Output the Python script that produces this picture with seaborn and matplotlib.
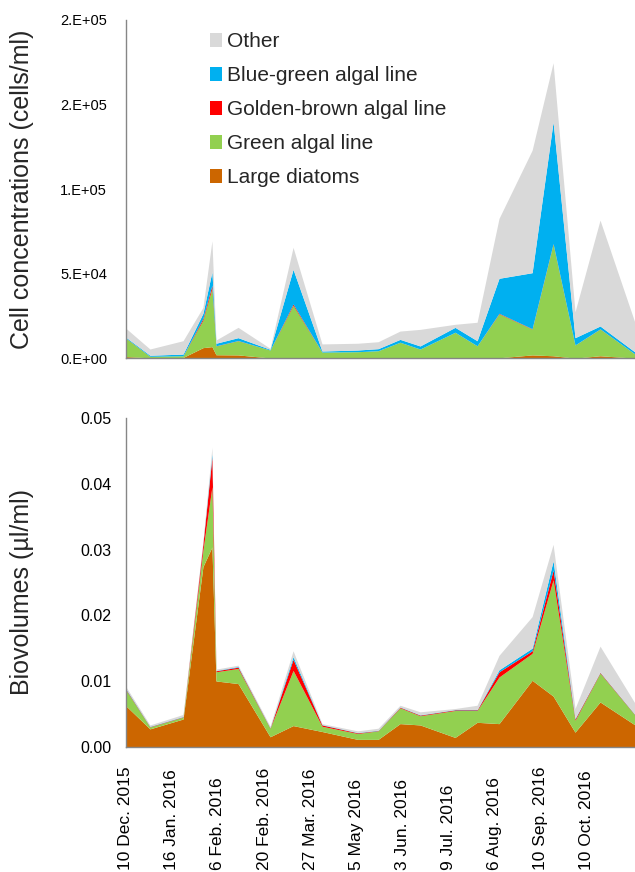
import numpy as np
import pandas as pd
import matplotlib
matplotlib.use("Agg")
import matplotlib.pyplot as plt
import seaborn as sns
from matplotlib.patches import Patch

# ---------------- data ----------------
# sampling days counted from 10 Dec. 2015
sample_day = [0, 15.4, 36.7, 49.5, 55.3, 57.9, 72.1, 92.7, 107.5, 126.1, 149.0,
              162.2, 176.3, 189.2, 211.7, 225.9, 240.0, 261.3, 274.8, 288.9, 305.0, 327.5]

series = ["Large diatoms", "Green algal line", "Golden-brown algal line",
          "Blue-green algal line", "Other"]
colors = ["#CC6600", "#92D050", "#FF0000", "#00B0F0", "#D9D9D9"]

# cell concentrations (cells/ml)
cells_diatoms = [1000, 300, 500, 6300, 6900, 2100, 2000, 200, 200, 100, 100,
                 100, 100, 100, 100, 100, 300, 2000, 1500, 100, 1500, 100]
cells_green = [10800, 900, 1000, 16300, 34500, 5200, 8400, 4700, 31100, 3600, 3800,
               4400, 9400, 5400, 15300, 7300, 26000, 15300, 66000, 7800, 15800, 2400]
cells_golden = [100, 0, 0, 1000, 1900, 100, 100, 0, 800, 0, 0,
                0, 0, 0, 0, 0, 300, 200, 300, 0, 100, 0]
cells_bluegreen = [500, 600, 1000, 3000, 7900, 1500, 1700, 400, 20500, 600, 1000,
                   1200, 1700, 1800, 2900, 3000, 20700, 33100, 72000, 4300, 1700, 1200]
cells_other = [5300, 3700, 7900, 3500, 18300, 1900, 6100, 600, 13000, 4200, 4000,
               4100, 4900, 9800, 1800, 10900, 35400, 72400, 34900, 15300, 62600, 17300]

# biovolumes (ul/ml)
bio_diatoms = [0.0062, 0.0027, 0.0042, 0.0274, 0.0304, 0.0100, 0.0096, 0.0015, 0.0032, 0.0023, 0.0011,
               0.0011, 0.0035, 0.0033, 0.0014, 0.0037, 0.0035, 0.0101, 0.0077, 0.0022, 0.0068, 0.0033]
bio_green = [0.0024, 0.0003, 0.0003, 0.0025, 0.0092, 0.0014, 0.0023, 0.0013, 0.0084, 0.0008, 0.0009,
             0.0013, 0.0024, 0.0014, 0.0041, 0.0018, 0.0071, 0.0041, 0.0177, 0.0018, 0.0044, 0.0015]
bio_golden = [0.0001, 0.00005, 0.00005, 0.0010, 0.0045, 0.00015, 0.0002, 0.00005, 0.0017, 0.0002, 0.0001,
              0.00005, 0.0001, 0.0001, 0.0001, 0.0001, 0.0008, 0.0004, 0.0015, 0.0002, 0.0001, 0.00005]
bio_bluegreen = [0.0001, 0.00005, 0.00005, 0.0001, 0.0005, 0.00005, 0.0001, 0.00005, 0.0004, 0.00005, 0.00005,
                 0.00005, 0.00005, 0.00005, 0.00005, 0.00005, 0.0003, 0.0004, 0.0014, 0.0001, 0.00005, 0.00005]
bio_other = [0.0003, 0.0002, 0.0003, 0.0003, 0.0010, 0.0002, 0.0002, 0.0002, 0.0009, 0.00015, 0.00025,
             0.0003, 0.00025, 0.00045, 0.00015, 0.00065, 0.0022, 0.0048, 0.0025, 0.0015, 0.00395, 0.0017]

date_labels = ["10 Dec. 2015", "16 Jan. 2016", "6 Feb. 2016", "20 Feb. 2016", "27 Mar. 2016",
               "5 May 2016", "3 Jun. 2016", "9 Jul. 2016", "6 Aug. 2016", "10 Sep. 2016",
               "10 Oct. 2016"]
top_ytick_labels = ["0.E+00", "5.E+04", "1.E+05", "2.E+05", "2.E+05"]
bottom_ytick_labels = ["0.00", "0.01", "0.02", "0.03", "0.04", "0.05"]

cells = pd.DataFrame({"day": sample_day, series[0]: cells_diatoms, series[1]: cells_green,
                      series[2]: cells_golden, series[3]: cells_bluegreen, series[4]: cells_other})
bio = pd.DataFrame({"day": sample_day, series[0]: bio_diatoms, series[1]: bio_green,
                    series[2]: bio_golden, series[3]: bio_bluegreen, series[4]: bio_other})

# ---------------- style ----------------
sns.set_style("white")
plt.rcParams["font.family"] = ["Liberation Sans", "DejaVu Sans"]

fig = plt.figure(figsize=(6.35, 8.72), dpi=100)
ax1 = fig.add_axes([0.1984, 0.5891, 0.8016, 0.3880])
ax2 = fig.add_axes([0.1984, 0.1438, 0.8016, 0.3765])

spine_col = "#868686"
xmax = 327.5
top_ticks = [0, 31, 62, 91, 122, 152, 183, 213, 244, 275, 305]
bottom_ticks = list(np.arange(11) * 29.6)

for ax, df in ((ax1, cells), (ax2, bio)):
    ax.stackplot(df["day"], *[df[s] for s in series], colors=colors,
                 linewidth=0, labels=series)
    ax.set_xlim(0, xmax)
    sns.despine(ax=ax)
    for sp in ("left", "bottom"):
        ax.spines[sp].set_color(spine_col)
        ax.spines[sp].set_linewidth(1.0)
    ax.tick_params(axis="y", direction="out", length=4, width=1,
                   color=spine_col, labelcolor="black")
    ax.tick_params(axis="x", direction="out", length=3, width=1,
                   color=spine_col, labelcolor="black")
    ax.grid(False)

# top chart
ax1.set_ylim(0, 200000)
ax1.set_yticks([0, 50000, 100000, 150000, 200000])
ax1.set_yticklabels(top_ytick_labels, fontsize=10.5)
ax1.tick_params(axis="y", pad=9.5)
ax1.set_xticks(top_ticks)
ax1.set_xticklabels([])
ax1.set_ylabel("Cell concentrations (cells/ml)", fontsize=18)
ax1.yaxis.set_label_coords(-0.181, 0.5)

handles = [Patch(facecolor=c, edgecolor="none") for c in colors][::-1]
fig.legend(handles, series[::-1], loc="upper left",
           bbox_to_anchor=(0.330, 0.963), frameon=False, fontsize=15,
           handlelength=0.6, handleheight=0.6, handletextpad=0.25,
           labelspacing=0.72, borderpad=0, borderaxespad=0)

# bottom chart
ax2.set_ylim(0, 0.05)
ax2.set_yticks([0, 0.01, 0.02, 0.03, 0.04, 0.05])
ax2.set_yticklabels(bottom_ytick_labels, fontsize=11.5)
ax2.tick_params(axis="y", pad=6.5)
ax2.set_xticks(bottom_ticks)
ax2.set_xticklabels(date_labels, rotation=90, fontsize=12.5, va="bottom", ha="center")
ax2.tick_params(axis="x", pad=85.8)
ax2.set_ylabel("Biovolumes (µl/ml)", fontsize=18)
ax2.yaxis.set_label_coords(-0.181, 0.47)

fig.savefig("out.png", dpi=100)
